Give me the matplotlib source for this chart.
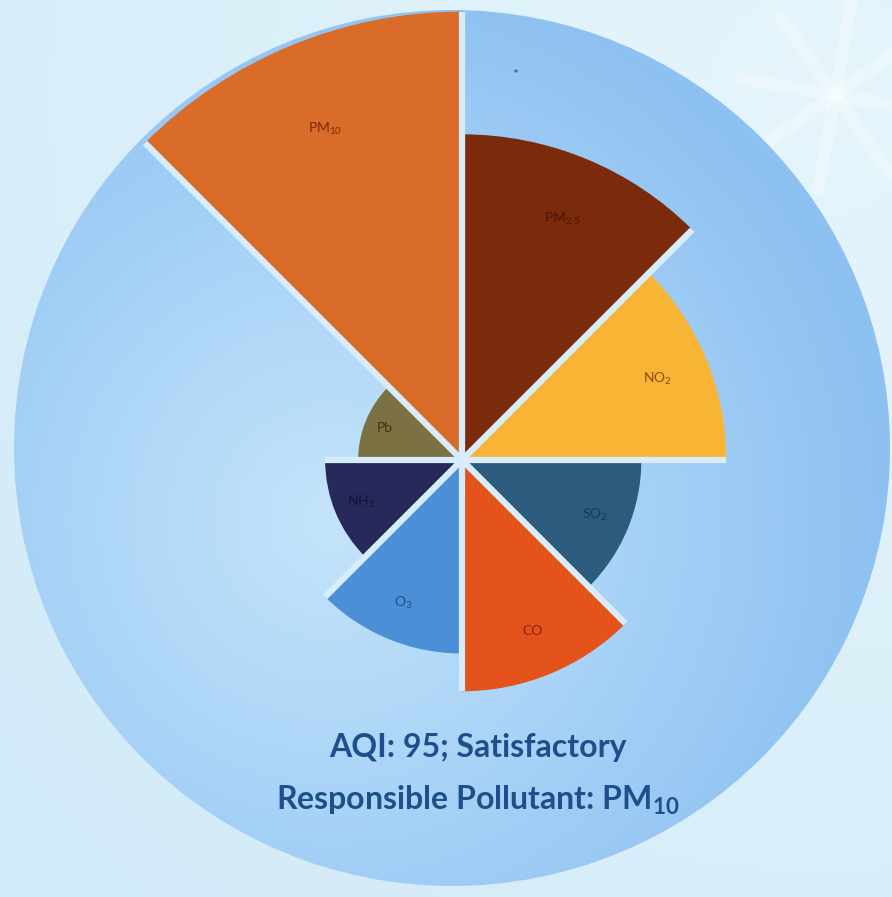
import numpy as np
import matplotlib
matplotlib.use("Agg")
import matplotlib.pyplot as plt
from matplotlib.patches import Circle
from matplotlib.colors import LinearSegmentedColormap

# pollutant sub-indices, clockwise from 12 o'clock
pollutants = ['PM$_\\mathrm{2.5}$', 'NO$_\\mathrm{2}$', 'SO$_\\mathrm{2}$', 'CO',
              'O$_\\mathrm{3}$', 'NH$_\\mathrm{3}$', 'Pb', 'PM$_\\mathrm{10}$']
sub_index = [69, 56, 38, 49, 41, 29, 22, 95]
colors = ['#7b2b0c', '#f8b535', '#2c5b7b', '#e5531d',
          '#4b8fd6', '#27295b', '#7b7142', '#da6c29']
label_colors = ['#4a1506', '#8a4b12', '#163a55', '#8a2209',
                '#1f4f8a', '#10123a', '#3b3414', '#7a2510']
aqi = 95
category = 'Satisfactory'

plt.rcParams['font.family'] = ['Lato', 'DejaVu Sans']
plt.rcParams['mathtext.fontset'] = 'custom'
plt.rcParams['mathtext.rm'] = 'Lato'
plt.rcParams['mathtext.bf'] = 'Lato:bold'

W, H = 892, 897
fig = plt.figure(figsize=(W / 100, H / 100), dpi=100)

# background
bg = fig.add_axes([0, 0, 1, 1])
bg.set_xlim(0, W)
bg.set_ylim(H, 0)
bg.axis('off')
yy, xx = np.mgrid[0:H, 0:W]
outer = np.hypot(xx - 820, yy - 100) / 1100
outer_cmap = LinearSegmentedColormap.from_list('o', ['#e6f5fc', '#d2ebf8'])
bg.imshow(outer, cmap=outer_cmap, extent=(0, W, H, 0), vmin=0, vmax=1, zorder=0)

# faint sparkle top right
for ang in range(0, 180, 45):
    a = np.deg2rad(ang + 10)
    bg.plot([835 - 95 * np.cos(a), 835 + 95 * np.cos(a)],
            [95 - 95 * np.sin(a), 95 + 95 * np.sin(a)],
            color='white', alpha=0.3, lw=9, solid_capstyle='round', zorder=0.5)

cx, cy, cr = 452, 448, 438
d = np.hypot(xx - 330, yy - 520) / 560
inner_cmap = LinearSegmentedColormap.from_list('i', ['#c4e4fa', '#a9d3f7', '#8dc1f1'])
im = bg.imshow(np.clip(d, 0, 1), cmap=inner_cmap, extent=(0, W, H, 0), vmin=0, vmax=1, zorder=1)
circ = Circle((cx, cy), cr, transform=bg.transData, facecolor='none', edgecolor='none')
bg.add_patch(circ)
im.set_clip_path(circ)

bg.text(515, 75, '*', color='#3a4a60', fontsize=10, ha='center', va='center', zorder=3)

# rose chart
pcx, pcy, R = 462, 460, 472
ax = fig.add_axes([(pcx - R) / W, (H - pcy - R) / H, 2 * R / W, 2 * R / H],
                  projection='polar')
ax.set_facecolor('none')
ax.set_theta_zero_location('N')
ax.set_theta_direction(-1)
ax.set_ylim(0, 100)
ax.axis('off')

n = len(sub_index)
step = 2 * np.pi / n
theta = np.arange(n) * step + step / 2
ax.bar(theta, sub_index, width=step, color=colors, linewidth=0)

# light gaps between the wedges
for i in range(n):
    edge = i * step
    reach = max(sub_index[i], sub_index[i - 1])
    ax.plot([edge, edge], [0, reach], color='#d8edfb', lw=4.5, solid_capstyle='butt')
ax.scatter([0], [0], s=60, color='#d8edfb', zorder=3, linewidths=0)

for t, v, lab, lc in zip(theta, sub_index, pollutants, label_colors):
    ax.text(t, v * 0.8, lab, color=lc, fontsize=10, ha='center', va='center')

fig.text(478 / W, 1 - 748 / H, f'AQI: {aqi}; {category}', color='#1e4f8c',
         fontsize=23, fontweight='bold', ha='center', va='center')
fig.text(478 / W, 1 - 800 / H, 'Responsible Pollutant: PM$_\\mathbf{10}$',
         color='#1e4f8c', fontsize=23, fontweight='bold', ha='center', va='center')

fig.savefig('out.png', dpi=100)
